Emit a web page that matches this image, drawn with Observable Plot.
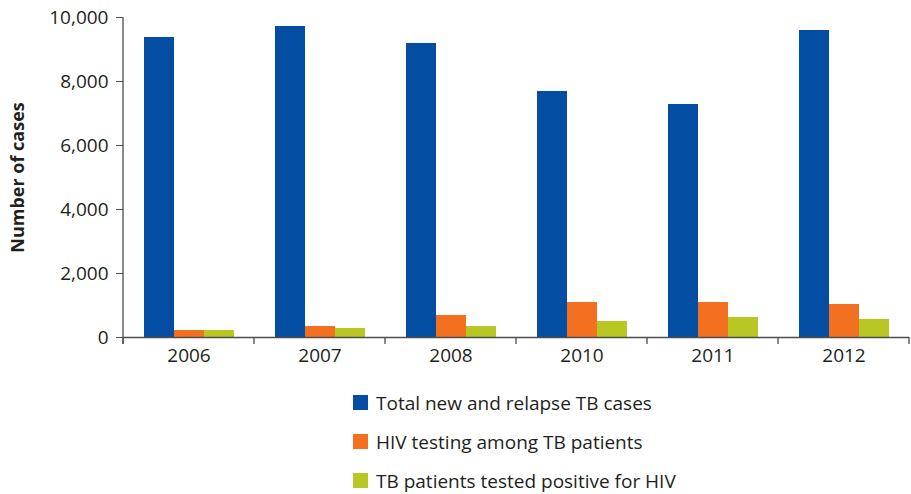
<!DOCTYPE html>
<html>
<head>
<meta charset="utf-8">
<script src="https://cdn.jsdelivr.net/npm/d3@7"></script>
<script src="https://cdn.jsdelivr.net/npm/@observablehq/plot@0.6"></script>
<style>
  html, body { margin: 0; padding: 0; background: #fff; overflow: hidden; }
  #chart { width: 911px; }
  .legend { padding-top: 11px; margin-left: 353px; font-family: "Open Sans", sans-serif; font-size: 19px; color: #231f20; }
  .legend .row { display: flex; align-items: center; height: 39px; }
  .legend .sw { width: 15px; height: 15px; margin-right: 8px; flex: none; }
</style>
</head>
<body>
<div id="chart"></div>
<script>
const years = ["2006", "2007", "2008", "2010", "2011", "2012"];
const seriesNames = [
  "Total new and relapse TB cases",
  "HIV testing among TB patients",
  "TB patients tested positive for HIV"
];
const totalCases = [9370, 9710, 9180, 7680, 7270, 9580];
const hivTesting = [230, 350, 700, 1100, 1100, 1040];
const hivPositive = [230, 290, 350, 510, 635, 570];
const seriesColors = ["#034ea2", "#f37021", "#b8c724"];
const yTicks = [0, 2000, 4000, 6000, 8000, 10000];
const yTitle = "Number of cases";

const seriesValues = [totalCases, hivTesting, hivPositive];
const data = [];
years.forEach((yr, i) => {
  seriesNames.forEach((s, j) => data.push({year: yr, series: s, value: seriesValues[j][i]}));
});

const axisColor = "#4d4d4d";
const textColor = "#231f20";
const W = 911, H = 372;

const plot = Plot.plot({
  width: W,
  height: H,
  marginLeft: 122,
  marginRight: 1,
  marginTop: 17,
  marginBottom: 35,
  style: {fontFamily: "'Open Sans', sans-serif", color: textColor, background: "#fff"},
  fx: {domain: years, padding: 0, axis: null},
  x: {domain: seriesNames, paddingInner: 0, paddingOuter: 0.66, axis: null},
  y: {domain: [0, 10000], axis: null},
  color: {domain: seriesNames, range: seriesColors},
  marks: [
    Plot.barY(data, {fx: "year", x: "series", y: "value", fill: "series", inset: 0, shapeRendering: "crispEdges"}),
    Plot.ruleY([0], {stroke: axisColor, strokeWidth: 1.3}),
    Plot.axisY({ticks: yTicks, tickFormat: d3.format(","), tickSize: 7, tickPadding: 8, fontSize: 19, stroke: axisColor, fill: textColor, label: null}),
    Plot.axisFx({anchor: "bottom", tickSize: 0, tickPadding: 11, fontSize: 19, fill: textColor, label: null}),
    Plot.text([yTitle], {frameAnchor: "left", textAnchor: "middle", lineAnchor: "middle", rotate: -90, dx: -105, fontSize: 18, fontWeight: "bold", fill: textColor, facetAnchor: "left"})
  ]
});

// Axis line and category boundary ticks, positioned through the plot's own scales
const fx = plot.scale("fx");
const y = plot.scale("y");
const y0 = y.apply(0);
const yTop = y.apply(yTicks[yTicks.length - 1]);
const svg = d3.select(plot);
const g = svg.append("g").attr("stroke", axisColor).attr("stroke-width", 1.3);
const x0 = fx.apply(years[0]);
g.append("line").attr("x1", x0).attr("x2", x0).attr("y1", yTop).attr("y2", y0 + 7);
const bounds = years.map(d => fx.apply(d)).concat([fx.apply(years[years.length - 1]) + fx.bandwidth]);
bounds.forEach(b => {
  g.append("line").attr("x1", b).attr("x2", b).attr("y1", y0).attr("y2", y0 + 7);
});

document.getElementById("chart").appendChild(plot);

// Legend (vertical list)
const legend = document.createElement("div");
legend.className = "legend";
seriesNames.forEach((s, i) => {
  const row = document.createElement("div");
  row.className = "row";
  const sw = document.createElement("span");
  sw.className = "sw";
  sw.style.background = seriesColors[i];
  const label = document.createElement("span");
  label.textContent = s;
  row.appendChild(sw);
  row.appendChild(label);
  legend.appendChild(row);
});
document.getElementById("chart").appendChild(legend);
</script>
</body>
</html>
